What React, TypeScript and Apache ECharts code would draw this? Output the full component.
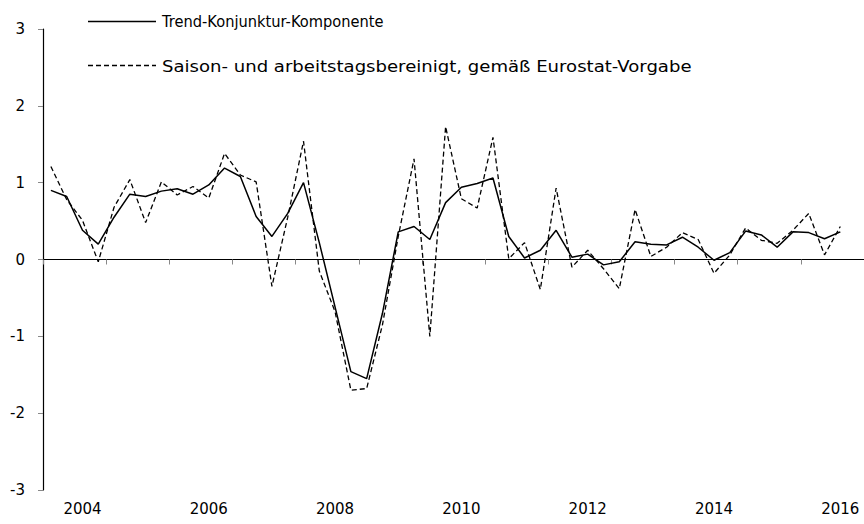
import React, { useEffect, useRef } from "react";
import * as echarts from "echarts";

// Quarterly categories, 2003 Q3 .. 2016 Q2
const startYear = 2003;
const quarters: string[] = [];
for (let i = 0; i < 52; i++) {
  const q = 2 + i; // 2003 Q3 is index 0
  const y = startYear + Math.floor(q / 4);
  quarters.push(`${y} Q${(q % 4) + 1}`);
}

const yTicks = [-3, -2, -1, 0, 1, 2, 3];

const trendName = "Trend-Konjunktur-Komponente";
const seasonalName = "Saison- und arbeitstagsbereinigt, gemäß Eurostat-Vorgabe";

const trend: (number | null)[] = [
  0.90, 0.82, 0.38, 0.20, 0.55, 0.85, 0.82, 0.89, 0.92, 0.85,
  0.97, 1.19, 1.08, 0.56, 0.30, 0.60, 1.00, 0.22, -0.62, -1.46,
  -1.55, -0.70, 0.36, 0.43, 0.26, 0.74, 0.94, 0.99, 1.06, 0.30,
  0.02, 0.12, 0.38, 0.03, 0.07, -0.07, -0.03, 0.23, 0.20, 0.19,
  0.29, 0.16, -0.01, 0.09, 0.37, 0.32, 0.16, 0.36, 0.35, 0.27,
  0.36, null,
];

const seasonal: (number | null)[] = [
  1.21, 0.78, 0.51, -0.03, 0.68, 1.04, 0.48, 1.01, 0.84, 0.95,
  0.80, 1.38, 1.10, 1.01, -0.35, 0.55, 1.54, -0.15, -0.68, -1.70,
  -1.68, -0.85, 0.30, 1.31, -1.00, 1.73, 0.79, 0.67, 1.59, 0.01,
  0.22, -0.39, 0.93, -0.10, 0.12, -0.12, -0.38, 0.65, 0.04, 0.16,
  0.35, 0.26, -0.18, 0.06, 0.41, 0.25, 0.21, 0.38, 0.60, 0.06,
  0.43, null,
];

const FONT = "DejaVu Sans";

export default function App() {
  const ref = useRef<HTMLDivElement>(null);
  useEffect(() => {
    if (!ref.current) return;
    const chart = echarts.init(ref.current, null, { renderer: "svg" });
    chart.setOption({
      animation: false,
      backgroundColor: "#ffffff",
      textStyle: { fontFamily: FONT, color: "#000" },
      graphic: [
        {
          type: "line",
          shape: { x1: 88, y1: 21.5, x2: 156, y2: 21.5 },
          style: { stroke: "#000", lineWidth: 1.5 },
        },
        {
          type: "text",
          x: 162,
          y: 22,
          scaleX: 0.915,
          style: {
            text: trendName,
            font: `16px "${FONT}"`,
            fill: "#000",
            textVerticalAlign: "middle",
          },
        },
        {
          type: "line",
          shape: { x1: 88, y1: 65.5, x2: 156, y2: 65.5 },
          style: { stroke: "#000", lineWidth: 1.3, lineDash: [5, 3] },
        },
        {
          type: "text",
          x: 162,
          y: 66,
          scaleX: 1.13,
          style: {
            text: seasonalName,
            font: `16px "${FONT}"`,
            fill: "#000",
            textVerticalAlign: "middle",
          },
        },
      ],
      grid: { left: 43, right: -3, top: 29, bottom: 34, containLabel: false },
      xAxis: [
        {
          type: "category",
          data: quarters,
          boundaryGap: true,
          axisLine: { onZero: true, lineStyle: { color: "#000", width: 1.2 } },
          axisTick: {
            show: true,
            length: 5,
            interval: (i: number) => i % 4 === 0,
            lineStyle: { color: "#888" },
          },
          axisLabel: { show: false },
          splitLine: { show: false },
        },
        {
          type: "category",
          data: quarters,
          position: "bottom",
          boundaryGap: true,
          axisLine: { show: false, onZero: false },
          axisTick: { show: false },
          axisLabel: {
            show: true,
            interval: (i: number) => i % 8 === 2,
            formatter: (v: string) => v.slice(0, 4),
            fontFamily: FONT,
            fontSize: 15,
            color: "#000",
            margin: 11,
          },
          splitLine: { show: false },
        },
      ],
      yAxis: {
        type: "value",
        min: yTicks[0],
        max: yTicks[yTicks.length - 1],
        interval: 1,
        axisLine: { show: true, lineStyle: { color: "#000", width: 1.2 } },
        axisTick: { show: true, length: 5, inside: false, lineStyle: { color: "#888" } },
        axisLabel: {
          fontFamily: FONT,
          fontSize: 15,
          color: "#000",
          margin: 18,
        },
        splitLine: { show: false },
      },
      series: [
        {
          name: trendName,
          type: "line",
          data: trend,
          xAxisIndex: 0,
          symbol: "none",
          lineStyle: { color: "#000", width: 1.5, type: "solid" },
          itemStyle: { color: "#000" },
        },
        {
          name: seasonalName,
          type: "line",
          data: seasonal,
          xAxisIndex: 0,
          symbol: "none",
          lineStyle: { color: "#000", width: 1.3, type: [5, 3] },
          itemStyle: { color: "#000" },
        },
      ],
    });
    return () => chart.dispose();
  }, []);
  return (
    <div
      ref={ref}
      style={{ position: "fixed", left: 0, top: 0, width: 864, height: 524 }}
    />
  );
}
